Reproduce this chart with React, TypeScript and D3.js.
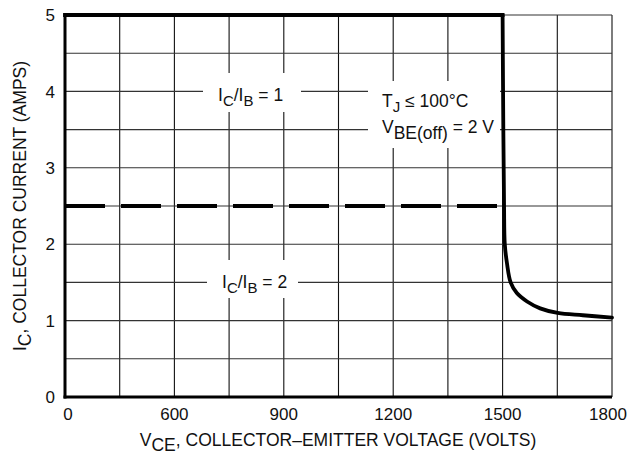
import React from "react";
import * as d3 from "d3";

const xTickValues = [0, 600, 900, 1200, 1500, 1800];
const xGridValues = [300, 600, 750, 900, 1050, 1200, 1350, 1500, 1650, 1800];
const yTickValues = [0, 1, 2, 3, 4, 5];
const yGridValues = [0.5, 1, 1.5, 2, 2.5, 3, 3.5, 4, 4.5, 5];

// IC/IB = 1 curve (VCE, IC)
const curve1V = [0, 1500, 1502, 1504, 1506, 1512, 1522, 1539, 1567, 1603, 1651, 1720, 1800];
const curve1I = [5, 5, 3.5, 2.5, 2.0, 1.75, 1.5, 1.36, 1.25, 1.16, 1.1, 1.07, 1.04];
// IC/IB = 2 line
const curve2V = [0, 1500];
const curve2I = [2.5, 2.5];

const W = 629, H = 462;
const X0 = 65, X1 = 612, Y0 = 397, Y1 = 15;
const FONT = "Liberation Sans, Arial, sans-serif";

export default function App() {
  const colW = (X1 - X0) / 10;
  const x = d3.scaleLinear().domain([0, 600, 1800]).range([X0, X0 + 2 * colW, X1]);
  const y = d3.scaleLinear().domain([0, 5]).range([Y0, Y1]);

  const straight = d3.line<[number, number]>().x(d => x(d[0])).y(d => y(d[1]));
  const smooth = d3.line<[number, number]>().x(d => x(d[0])).y(d => y(d[1])).curve(d3.curveCatmullRom.alpha(0.5));
  const c1 = curve1V.map((v, i) => [v, curve1I[i]] as [number, number]);
  const c1Flat = c1.slice(0, 2);
  const c1Fall = c1.slice(1);
  const c2 = curve2V.map((v, i) => [v, curve2I[i]] as [number, number]);

  const xLabelShift = (i: number) => (i === 0 ? 3 : i === xTickValues.length - 1 ? -4 : 0);

  return (
    <svg width={W} height={H} style={{ position: "absolute", left: 0, top: 0, background: "#fff" }} fontFamily={FONT}>
      <rect x={0} y={0} width={W} height={H} fill="#fff" />
      {/* grid */}
      {xGridValues.map(v => (
        <line key={"gx" + v} x1={x(v)} x2={x(v)} y1={Y0} y2={Y1} stroke="#111" strokeWidth={1.1} />
      ))}
      {yGridValues.map(v => (
        <line key={"gy" + v} x1={X0} x2={X1} y1={y(v)} y2={y(v)} stroke="#333" strokeWidth={1.1} />
      ))}
      {/* label boxes */}
      <rect x={203} y={73} width={98} height={39} fill="#fff" />
      <rect x={207} y={260} width={91} height={38} fill="#fff" />
      <rect x={368} y={81} width={132} height={67} fill="#fff" />
      {/* axes */}
      <line x1={X0} x2={X0} y1={Y0 + 1.5} y2={Y1 - 1.5} stroke="#000" strokeWidth={3} />
      <line x1={X0 - 1.5} x2={X1} y1={Y0} y2={Y0} stroke="#000" strokeWidth={3} />
      {/* curves */}
      <path d={straight(c1Flat) || ""} fill="none" stroke="#000" strokeWidth={3.8} strokeLinecap="square" />
      <path d={smooth(c1Fall) || ""} fill="none" stroke="#000" strokeWidth={3.8} strokeLinecap="round" />
      <path d={straight(c2) || ""} fill="none" stroke="#000" strokeWidth={3.8} strokeDasharray="40 16" />
      {/* tick labels */}
      {yTickValues.map(v => (
        <text key={"ty" + v} x={55} y={y(v)} dy="0.36em" textAnchor="end" fontSize={17} fill="#111">{v}</text>
      ))}
      {xTickValues.map((v, i) => (
        <text key={"tx" + v} x={x(v) + xLabelShift(i)} y={420} textAnchor="middle" fontSize={17} fill="#111">{v}</text>
      ))}
      {/* annotations */}
      <text x={218} y={101} fontSize={17.5} fill="#111">
        I<tspan fontSize={15} dy={5}>C</tspan><tspan dy={-5}>/I</tspan><tspan fontSize={15} dy={5}>B</tspan><tspan dy={-5}> = 1</tspan>
      </text>
      <text x={222} y={288} fontSize={17.5} fill="#111">
        I<tspan fontSize={15} dy={5}>C</tspan><tspan dy={-5}>/I</tspan><tspan fontSize={15} dy={5}>B</tspan><tspan dy={-5}> = 2</tspan>
      </text>
      <text x={382} y={107} fontSize={17.5} fill="#111">
        T<tspan fontSize={15} dy={5}>J</tspan><tspan dy={-5}> ≤ 100°C</tspan>
      </text>
      <text x={382} y={133} fontSize={17.5} fill="#111">
        V<tspan fontSize={17.5} dy={6}>BE(off)</tspan><tspan dy={-6}> = 2 V</tspan>
      </text>
      {/* axis titles */}
      <text x={338} y={446} textAnchor="middle" fontSize={17.5} fill="#111">
        V<tspan dy={5}>CE</tspan><tspan dy={-5}>, COLLECTOR–EMITTER VOLTAGE (VOLTS)</tspan>
      </text>
      <text transform={`translate(26,${(Y0 + Y1) / 2}) rotate(-90)`} textAnchor="middle" fontSize={17.5} fill="#111">
        I<tspan dy={5}>C</tspan><tspan dy={-5}>, COLLECTOR CURRENT (AMPS)</tspan>
      </text>
    </svg>
  );
}
